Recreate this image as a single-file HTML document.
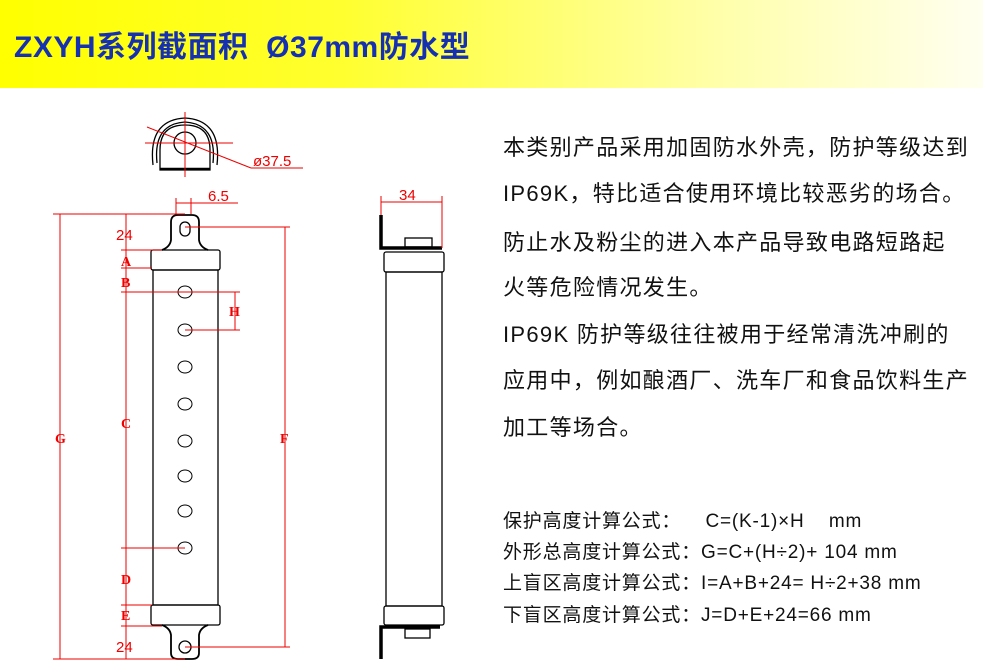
<!DOCTYPE html>
<html><head><meta charset="utf-8"><style>
body{margin:0;width:983px;height:666px;background:#fff;position:relative;overflow:hidden;font-family:"Liberation Sans","Noto Sans CJK SC",sans-serif}
.hdr{position:absolute;left:0;top:0;width:983px;height:88px;background:linear-gradient(90deg,#ffff00 0%,#ffff30 35%,#ffffb0 75%,#fffff0 100%)}
.title{position:absolute;left:14px;top:22px;font-size:30px;font-weight:bold;color:#1530b0;white-space:nowrap;letter-spacing:0.5px}
.t{position:absolute;left:503px;font-size:22px;letter-spacing:1.3px;white-space:nowrap;color:#111;font-family:"Liberation Sans","Noto Sans CJK SC",sans-serif}
.f{position:absolute;left:503px;font-size:19px;letter-spacing:0.8px;white-space:nowrap;color:#111}
svg{position:absolute;left:0;top:0}
</style></head><body>
<div class="hdr"></div>
<div class="title">ZXYH系列截面积&nbsp; Ø37mm防水型</div>
<div class="t" style="top:130px">本类别产品采用加固防水外壳，防护等级达到</div>
<div class="t" style="top:176px">IP69K，特比适合使用环境比较恶劣的场合。</div>
<div class="t" style="top:225px">防止水及粉尘的进入本产品导致电路短路起</div>
<div class="t" style="top:270px">火等危险情况发生。</div>
<div class="t" style="top:317px">IP69K 防护等级往往被用于经常清洗冲刷的</div>
<div class="t" style="top:363px">应用中，例如酿酒厂、洗车厂和食品饮料生产</div>
<div class="t" style="top:410px">加工等场合。</div>
<div class="f" style="top:506px">保护高度计算公式：&nbsp;&nbsp;&nbsp; C=(K-1)×H&nbsp;&nbsp;&nbsp; mm</div>
<div class="f" style="top:537px">外形总高度计算公式：G=C+(H÷2)+ 104 mm</div>
<div class="f" style="top:568px">上盲区高度计算公式：I=A+B+24= H÷2+38 mm</div>
<div class="f" style="top:600px">下盲区高度计算公式：J=D+E+24=66 mm</div>
<svg width="983" height="666" viewBox="0 0 983 666">
<g fill="none" stroke="#000" stroke-width="1.3">
<path d="M160 170 L160 150 Q160 125 185 125 Q210 125 210 150 L210 170 Z"/>
<path d="M153 165 Q148 120 185 118 Q222 120 217 165" />
<path d="M157 163 Q153 124 185 122 Q217 124 213 163"/>
<circle cx="185" cy="143" r="11"/>
<line x1="160" y1="169" x2="210" y2="169" stroke-width="2.5"/>
<rect x="153" y="270" width="65" height="335"/>
<rect x="151" y="250" width="69" height="20" rx="2"/>
<rect x="151" y="605" width="69" height="20" rx="2"/>
<path d="M162 250 Q170 247 171 240 L171 222 Q171 215 178 215 L192 215 Q199 215 199 222 L199 240 Q200 247 208 250" stroke-width="1.8"/>
<rect x="180" y="222" width="10" height="14" rx="5"/>
<path d="M162 625 Q170 628 171 635 L171 653 Q171 659 178 659 L192 659 Q199 659 199 653 L199 635 Q200 628 208 625" stroke-width="1.8"/>
<circle cx="185" cy="647" r="6"/>
<g stroke-width="1">
<ellipse cx="185" cy="292" rx="7" ry="6"/><ellipse cx="185" cy="330" rx="7" ry="6"/>
<ellipse cx="185" cy="367" rx="7" ry="6"/><ellipse cx="185" cy="404" rx="7" ry="6"/>
<ellipse cx="185" cy="441" rx="7" ry="6"/><ellipse cx="185" cy="476" rx="7" ry="6"/>
<ellipse cx="185" cy="511" rx="7" ry="6"/><ellipse cx="185" cy="548" rx="7" ry="6"/>
</g>
<rect x="386" y="272" width="56" height="334"/>
<rect x="384" y="252" width="60" height="20" rx="2"/>
<rect x="384" y="606" width="60" height="19" rx="2"/>
<rect x="405" y="238" width="27" height="9"/>
<rect x="405" y="629" width="25" height="9"/>
<path d="M381 215 L381 248 L442 248" stroke-width="3.5"/>
<path d="M381 659 L381 627 L440 627" stroke-width="3.5"/>
</g>
<g stroke="#e00" stroke-width="1" fill="none">
<line x1="145" y1="143" x2="233" y2="143"/><line x1="185" y1="112" x2="185" y2="177"/>
<line x1="147" y1="127" x2="251" y2="168"/><line x1="251" y1="168" x2="303" y2="168"/>
<line x1="53" y1="214" x2="185" y2="214"/><line x1="60" y1="214" x2="60" y2="659"/>
<line x1="53" y1="659" x2="185" y2="659"/>
<line x1="126" y1="214" x2="126" y2="659"/>
<line x1="121" y1="250" x2="162" y2="250"/><line x1="121" y1="268" x2="152" y2="268"/>
<line x1="121" y1="292" x2="240" y2="292"/><line x1="121" y1="548" x2="185" y2="548"/>
<line x1="121" y1="605" x2="152" y2="605"/><line x1="121" y1="626" x2="162" y2="626"/>
<line x1="185" y1="330" x2="240" y2="330"/><line x1="235" y1="292" x2="235" y2="330"/>
<line x1="185" y1="227" x2="290" y2="227"/><line x1="185" y1="647" x2="290" y2="647"/>
<line x1="285" y1="227" x2="285" y2="647"/>
<line x1="176" y1="198" x2="176" y2="214"/><line x1="191" y1="198" x2="191" y2="214"/>
<line x1="176" y1="203" x2="238" y2="203"/>
<line x1="381" y1="196" x2="381" y2="215"/><line x1="442" y1="196" x2="442" y2="248"/>
<line x1="381" y1="202" x2="442" y2="202"/>
</g>
<g fill="#e00" font-family="Liberation Sans,sans-serif" font-size="15">
<text x="253" y="166">ø37.5</text>
<text x="208" y="201">6.5</text>
<text x="116" y="240">24</text>
<text x="116" y="652">24</text>
<text x="399" y="200">34</text>
<g font-family="Liberation Serif,serif" font-weight="bold" font-size="14">
<text x="121" y="266">A</text><text x="121" y="287">B</text>
<text x="121" y="428">C</text><text x="121" y="584">D</text>
<text x="121" y="620">E</text><text x="229" y="316">H</text>
<text x="55" y="443">G</text><text x="280" y="443">F</text>
</g></g>
</svg>
</body></html>
